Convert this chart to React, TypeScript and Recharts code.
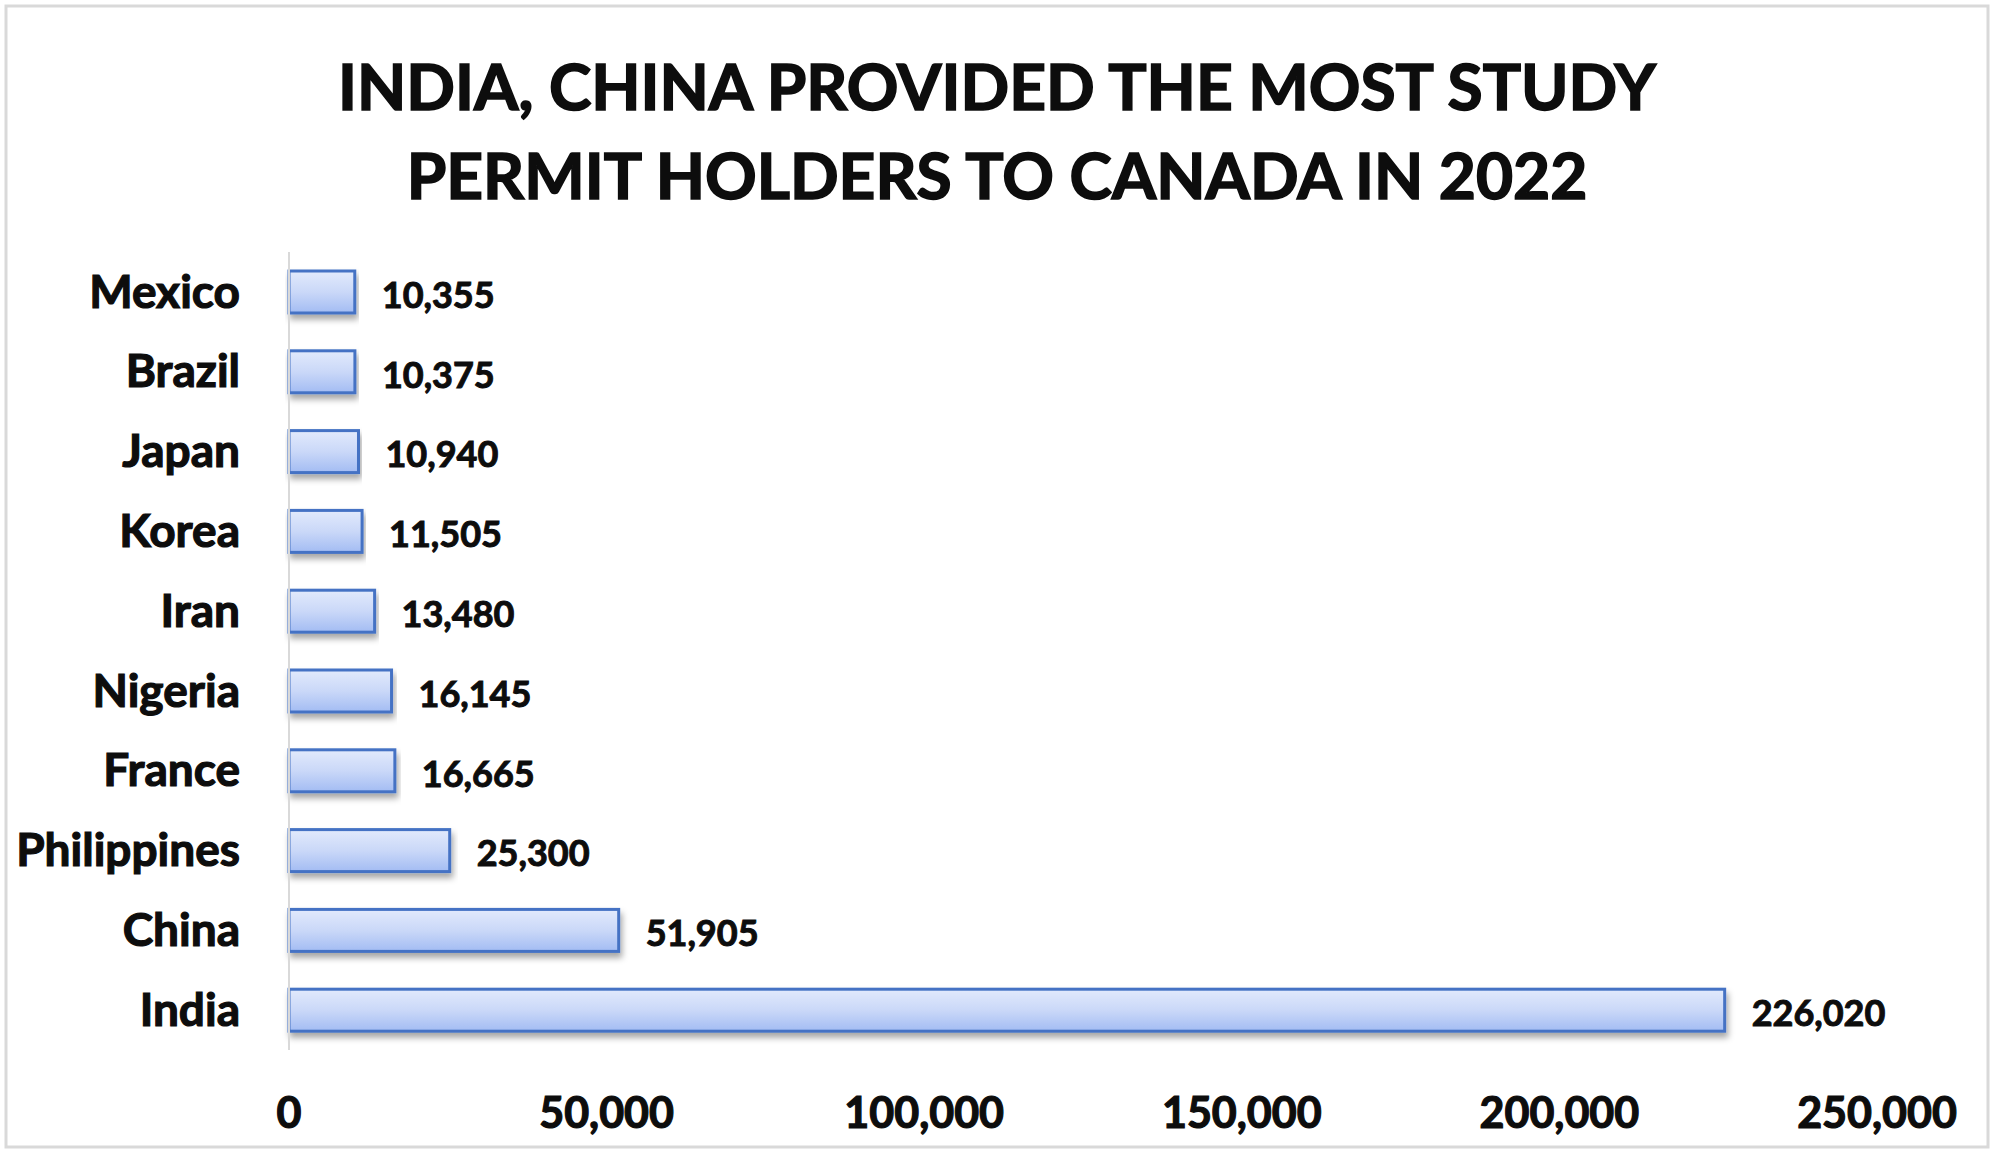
import React from "react";
import { Bar, BarChart, LabelList, XAxis, YAxis } from "recharts";

const countries = [
	"Mexico",
	"Brazil",
	"Japan",
	"Korea",
	"Iran",
	"Nigeria",
	"France",
	"Philippines",
	"China",
	"India",
];
const permits = [10355, 10375, 10940, 11505, 13480, 16145, 16665, 25300, 51905, 226020];
const xTicks = [0, 50000, 100000, 150000, 200000, 250000];
const titleLines = [
	"INDIA, CHINA PROVIDED THE MOST STUDY",
	"PERMIT HOLDERS TO CANADA IN 2022",
];

const rows = countries.map((country, i) => ({ country, value: permits[i] }));

const FONT = "Lato, 'Open Sans', sans-serif";
const INK = "#0d0d0d";
const fmt = (v: number) => v.toLocaleString("en-US");

// thin outline so Lato Bold reads as heavy as the original Calibri Bold
const heavy = { stroke: INK, strokeWidth: 1.2, paintOrder: "stroke" as const };

function XTick({ x, y, payload }: any) {
	return (
		<text
			x={x}
			y={y + 78}
			textAnchor="middle"
			fill={INK}
			fontSize={43}
			fontWeight={700}
			fontFamily={FONT}
			{...heavy}>
			{fmt(payload.value)}
		</text>
	);
}

function YTick({ x, y, payload }: any) {
	return (
		<text
			x={x}
			y={y}
			dy="0.34em"
			textAnchor="end"
			fill={INK}
			fontSize={46}
			fontWeight={700}
			fontFamily={FONT}
			{...heavy}>
			{payload.value}
		</text>
	);
}

function BarShape(props: any) {
	const { x, y, width, height } = props;
	return (
		<rect
			x={x}
			y={y}
			width={width}
			height={height}
			fill="url(#barFill)"
			stroke="#4472c4"
			strokeWidth={3}
			filter="url(#barShadow)"
		/>
	);
}

export default function App() {
	return (
		<div
			style={{
				position: "absolute",
				left: 0,
				top: 0,
				width: 1993,
				height: 1155,
				background: "#fff",
			}}>
			<svg
				width={1993}
				height={1155}
				style={{ position: "absolute", left: 0, top: 0 }}>
				<rect
					x={6}
					y={6}
					width={1982}
					height={1141}
					fill="#fff"
					stroke="#d9d9d9"
					strokeWidth={3}
				/>
				{titleLines.map((line, i) => (
					<text
						key={line}
						x={997}
						y={110 + i * 89}
						textAnchor="middle"
						fill={INK}
						fontSize={64}
						fontWeight={700}
						fontFamily={FONT}
						{...heavy}
						strokeWidth={1.6}>
						{line}
					</text>
				))}
			</svg>
			<div style={{ position: "absolute", left: 0, top: 0 }}>
				<BarChart
					width={1993}
					height={1155}
					data={rows}
					layout="vertical"
					barSize={42}
					margin={{ top: 252, right: 116, left: 89, bottom: 45 }}>
					<defs>
						<linearGradient id="barFill" x1="0" y1="0" x2="0" y2="1">
							<stop offset="0%" stopColor="#e2eafc" />
							<stop offset="50%" stopColor="#cad8f8" />
							<stop offset="100%" stopColor="#a3bcf3" />
						</linearGradient>
						<filter id="barShadow" x="-5%" y="-30%" width="110%" height="170%">
							<feDropShadow
								dx={2}
								dy={5}
								stdDeviation={3}
								floodColor="#000"
								floodOpacity={0.35}
							/>
						</filter>
					</defs>
					<XAxis
						type="number"
						domain={[0, 250000]}
						ticks={xTicks}
						interval={0}
						axisLine={false}
						tickLine={false}
						tickSize={0}
						tickMargin={0}
						height={60}
						tick={<XTick />}
					/>
					<YAxis
						type="category"
						dataKey="country"
						width={200}
						axisLine={{ stroke: "#d9d9d9", strokeWidth: 2 }}
						tickLine={false}
						tickSize={0}
						tickMargin={49}
						interval={0}
						tick={<YTick />}
					/>
					<Bar dataKey="value" shape={<BarShape />} isAnimationActive={false}>
						<LabelList
							dataKey="value"
							position="right"
							offset={27}
							formatter={(v: any) => fmt(Number(v))}
							fill={INK}
							fontSize={36}
							fontWeight={700}
							fontFamily={FONT}
							stroke={INK}
							strokeWidth={1}
							dy={3}
						/>
					</Bar>
				</BarChart>
			</div>
		</div>
	);
}
